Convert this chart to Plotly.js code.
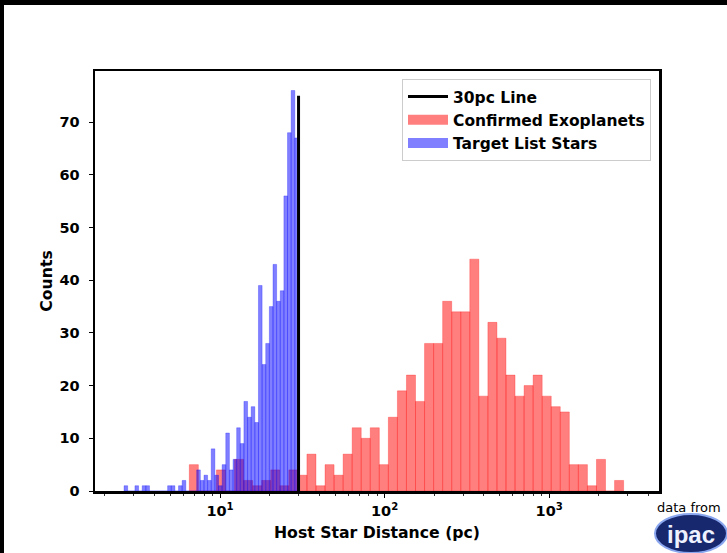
<!DOCTYPE html>
<html><head><meta charset="utf-8">
<script src="https://cdn.plot.ly/plotly-3.0.1.min.js"></script>
<style>
html,body{margin:0;padding:0;background:#000;width:727px;height:553px;overflow:hidden}
#plot{position:absolute;left:4px;top:5px;width:723px;height:548px;background:#fff}
</style></head><body><div id="plot"></div>
<script>
// Confirmed exoplanets: host star distance histogram (log bins, pc)
const exoLogMin = 0.8135, exoLogMax = 3.452;
const exoCounts = [5,0,0,4,0,6,2,1,2,4,1,4,3,7,1,5,3,7,12,10,12,5,14,19,22,17,28,28,36,34,34,44,18,32,29,22,18,20,22,18,16,15,5,5,1,6,0,2];
// Target list stars (log bins, pc)
const starLogMin = 0.417, starLogMax = 1.4765;
const starCounts = [1,0,0,1,0,1,1,0,0,0,0,0,1,1,0,1,2,0,0,0,4,2,3,2,8,3,1,5,11,4,6,12,9,17,14,16,13,39,24,28,35,43,36,38,56,68,76,67];
// 30 pc line
const lineX = [30, 30];
const lineY = [0, 75];
const xTickVals = [10, 100, 1000];
const xTickText = ['10<sup>1</sup>', '10<sup>2</sup>', '10<sup>3</sup>'];
const yTickVals = [0,10,20,30,40,50,60,70];
const seriesNames = ['30pc Line', 'Confirmed Exoplanets', 'Target List Stars'];

function binned(lmin, lmax, counts){
  const n = counts.length, w = (lmax - lmin) / n;
  const x = [], width = [];
  for (let i = 0; i < n; i++){
    const a = Math.pow(10, lmin + i*w), b = Math.pow(10, lmin + (i+1)*w);
    x.push((a+b)/2); width.push(b-a);
  }
  return {x, width};
}
const exo = binned(exoLogMin, exoLogMax, exoCounts);
const star = binned(starLogMin, starLogMax, starCounts);

const minorVals = [];
for (let d = 1; d <= 1000; d *= 10) for (let k = 2; k <= 9; k++) minorVals.push(d*k);

const F = 'DejaVu Sans, sans-serif';
const RED = 'rgba(255,0,0,0.5)', BLUE = 'rgba(0,0,255,0.5)';
const traces = [
  {type:'bar', x: exo.x, y: exoCounts, width: exo.width, name: seriesNames[1], showlegend: false,
   marker:{color: RED, line:{width:0.6, color:'rgba(255,0,0,0.45)'}}, hoverinfo:'skip'},
  {type:'bar', x: star.x, y: starCounts, width: star.width, name: seriesNames[2], showlegend: false,
   marker:{color: BLUE, line:{width:0.6, color:'rgba(0,0,255,0.45)'}}, hoverinfo:'skip'},
  {type:'scatter', mode:'lines', x: lineX, y: lineY, name: seriesNames[0],
   line:{color:'#000', width:3}, legendrank: 1, hoverinfo:'skip'},
  // legend patches (wide rectangles like the reference)
  {type:'scatter', mode:'lines', x:[null], y:[null], name: seriesNames[1],
   line:{color: RED, width: 10}, legendrank: 2, hoverinfo:'skip'},
  {type:'scatter', mode:'lines', x:[null], y:[null], name: seriesNames[2],
   line:{color: BLUE, width: 10}, legendrank: 3, hoverinfo:'skip'}
];

const px = v => (v - 95) / 564;      // page x -> paper
const py = v => (491 - v) / 420;     // page y -> paper

const layout = {
  width: 723, height: 548,
  margin: {l: 91, r: 68, t: 66, b: 62},
  paper_bgcolor: '#fff', plot_bgcolor: '#fff',
  barmode: 'overlay',
  showlegend: true,
  font: {family: F, color: '#000'},
  xaxis: {
    type: 'log', range: [0.2406, 3.667],
    tickmode: 'array', tickvals: xTickVals, ticktext: xTickText,
    ticks: 'outside', ticklen: 4, tickwidth: 1, tickcolor: '#000',
    minor: {tickmode: 'array', tickvals: minorVals, ticks: 'outside', ticklen: 2.5, tickwidth: 0.8, tickcolor: '#000', showgrid: false},
    showgrid: false, zeroline: false,
    showline: true, linecolor: '#000', linewidth: 2.5, mirror: true,
    ticklabelstandoff: 1,
    tickfont: {family: F, size: 14.5, weight: 'bold', color: '#000'},
    title: {text: 'Host Star Distance (pc)', font: {family: F, size: 15.7, weight: 'bold', color: '#000'}, standoff: 9}
  },
  yaxis: {
    range: [0, 79.7],
    tickmode: 'array', tickvals: yTickVals,
    ticks: 'outside', ticklen: 4, tickwidth: 1, tickcolor: '#000',
    showgrid: false, zeroline: false,
    showline: true, linecolor: '#000', linewidth: 2.5, mirror: true,
    ticklabelstandoff: 6,
    tickfont: {family: F, size: 14.5, weight: 'bold', color: '#000'},
    title: {text: 'Counts', font: {family: F, size: 15.7, weight: 'bold', color: '#000'}, standoff: 3}
  },
  legend: {
    x: px(651), y: py(79), xanchor: 'right', yanchor: 'top',
    bgcolor: 'rgba(255,255,255,0.8)', bordercolor: '#cccccc', borderwidth: 1,
    font: {family: F, size: 15.5, weight: 'bold', color: '#000'},
    traceorder: 'normal', itemwidth: 40, tracegroupgap: 0
  },
  shapes: [
    {type: 'circle', xref: 'paper', yref: 'paper', x0: px(655), x1: px(727), y0: py(553), y1: py(514),
     fillcolor: '#17286e', line: {color: '#8aa6ee', width: 2}, layer: 'above'}
  ],
  annotations: [
    {xref: 'paper', yref: 'paper', x: px(689), y: py(507), text: 'data from', showarrow: false,
     font: {family: F, size: 13, color: '#000'}, xanchor: 'center', yanchor: 'middle'},
    {xref: 'paper', yref: 'paper', x: px(691), y: py(534), text: '<b>ipac</b>', showarrow: false,
     font: {family: 'Liberation Sans, Arial, sans-serif', size: 24, color: '#eef1ff'}, xanchor: 'center', yanchor: 'middle'}
  ]
};

Plotly.newPlot('plot', traces, layout, {staticPlot: true, displayModeBar: false});
</script></body></html>
